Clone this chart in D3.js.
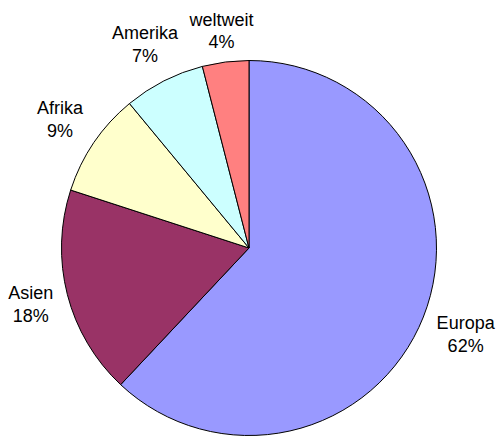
<!DOCTYPE html>
<html>
<head>
<meta charset="utf-8">
<script src="https://cdn.jsdelivr.net/npm/d3@7"></script>
<style>
  html, body { margin: 0; padding: 0; background: #fff; }
  svg { display: block; }
</style>
</head>
<body>
<svg id="chart" width="496" height="437"></svg>
<script>
const categories = ["Europa", "Asien", "Afrika", "Amerika", "weltweit"];
const values = [62, 18, 9, 7, 4];
const colors = ["#9999FF", "#993366", "#FFFFCC", "#CCFFFF", "#FF8080"];

const width = 496, height = 437;
const cx = 249, cy = 248, radius = 187.5;
const labelGap = 12;
const fontSize = 18;
const lineGap = 23;
const capH = fontSize * 0.716;

const svg = d3.select("#chart");
const g = svg.append("g").attr("transform", `translate(${cx},${cy})`);

const data = categories.map((c, i) => ({ name: c, value: values[i], color: colors[i] }));
const total = d3.sum(values);

const pie = d3.pie().value(d => d.value).sort(null);
const arcs = pie(data);
const arc = d3.arc().innerRadius(0).outerRadius(radius);

g.selectAll("path.slice")
  .data(arcs)
  .join("path")
  .attr("class", "slice")
  .attr("d", arc)
  .attr("fill", d => d.data.color)
  .attr("stroke", "#000")
  .attr("stroke-width", 1)
  .attr("stroke-linejoin", "round");

const labels = g.selectAll("text.label")
  .data(arcs)
  .join("text")
  .attr("class", "label")
  .attr("text-anchor", "middle")
  .attr("font-family", "'Liberation Sans', Arial, sans-serif")
  .attr("font-size", fontSize + "px")
  .attr("fill", "#000");

const boxH = capH + lineGap;
labels.append("tspan").attr("class", "l1").attr("x", 0).attr("y", -boxH / 2 + capH).text(d => d.data.name);
labels.append("tspan").attr("class", "l2").attr("x", 0).attr("y", -boxH / 2 + capH + lineGap)
  .text(d => Math.round(d.data.value / total * 100) + "%");

// place each label box just outside the pie along the slice's mid-angle
labels.each(function (d) {
  const t1 = d3.select(this).select(".l1").node().getComputedTextLength();
  const t2 = d3.select(this).select(".l2").node().getComputedTextLength();
  const hw = Math.max(t1, t2) / 2, hh = boxH / 2;
  const a = (d.startAngle + d.endAngle) / 2;
  const ux = Math.sin(a), uy = -Math.cos(a);
  const target = radius + labelGap;
  const nearest = (t) => {
    const px = ux * t, py = uy * t;
    const nx = Math.max(px - hw, Math.min(0, px + hw));
    const ny = Math.max(py - hh, Math.min(0, py + hh));
    return Math.hypot(nx, ny);
  };
  let lo = 0, hi = radius * 3;
  for (let k = 0; k < 60; k++) {
    const mid = (lo + hi) / 2;
    if (nearest(mid) < target) lo = mid; else hi = mid;
  }
  d3.select(this).attr("transform", `translate(${ux * hi},${uy * hi})`);
});
</script>
</body>
</html>
